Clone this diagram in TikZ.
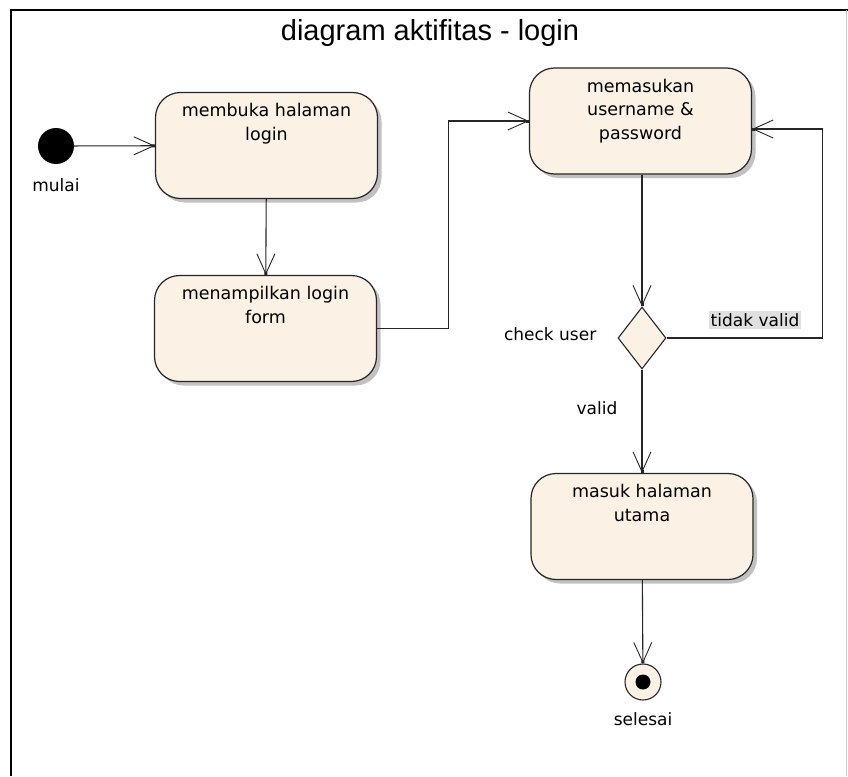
\documentclass[tikz,border=0pt]{standalone}
\usepackage{fontspec}
\setmainfont{DejaVu Sans}
\newfontfamily\titlefont{Liberation Sans}
\usepackage{tikz}
\usetikzlibrary{positioning, arrows.meta, shapes.geometric, shadows}

\definecolor{actfill}{RGB}{251,241,228}
\definecolor{tagfill}{RGB}{224,224,224}
\newcommand{\acttxt}[1]{\parbox[c][84pt][t]{210pt}{\centering #1}}

\tikzset{
  action/.style={draw=black!85, line width=1.2pt, fill=actfill,
    rounded corners=25pt, minimum width=222pt, minimum height=106pt,
    font=\fontsize{17.5}{23.5}\selectfont,
    drop shadow={shadow xshift=4pt, shadow yshift=-4pt, fill=black!40, opacity=0.6}},
  decision/.style={diamond, draw=black!85, line width=1.1pt, fill=actfill,
    minimum width=48pt, minimum height=62pt, aspect=0.77, inner sep=0pt},
  lbl/.style={font=\fontsize{17}{20}\selectfont, inner sep=1pt},
  flow/.style={line width=1.1pt, draw=black!85,
    -{Straight Barb[length=20pt, width=18pt, line width=0.9pt, sep=-3pt]Square[length=3pt, width=3pt]}},
}

\begin{document}
\begin{tikzpicture}[x=1pt, y=-1pt]
  \useasboundingbox[fill=white] (0,0) rectangle (848,776);
  % frame
  \draw[line width=2pt] (11,776) -- (11,10) -- (848,10);
  \draw[black!20, line width=1pt] (846,10) -- (846,776);
  \node[anchor=base, font=\titlefont\fontsize{29}{31}\selectfont] (title) at (430,41) {diagram aktifitas - login};

  % start
  \node[circle, fill=black, minimum size=36pt, inner sep=0pt] (init) at (56,146) {};
  \node[lbl, below=13pt of init] (mulai) {mulai};

  % actions
  \node[action] (open) at (266.5,145.5) {\acttxt{membuka halaman\\login}};
  \node[action] (form) at (265.5,328.5) {\acttxt{menampilkan login\\form}};
  \node[action] (input) at (640.5,121) {\acttxt{memasukan\\username \&\\password}};
  \node[decision] (chk) at (642,338) {};
  \node[lbl, left=20pt of chk, yshift=4pt] (chklbl) {check user};
  \node[action] (home) at (642,526.5) {\acttxt{masuk halaman\\utama}};

  % end
  \node[circle, draw=black!85, line width=1.1pt, fill=actfill, minimum size=36pt, inner sep=0pt] (fin) at (643,682) {};
  \node[circle, fill=black, minimum size=15pt, inner sep=0pt] (findot) at (fin) {};
  \node[lbl, below=11pt of fin] (selesai) {selesai};

  % flows
  \draw[flow] (init) -- (open);
  \draw[flow] (open) -- (form);
  \draw[flow] (form.east) -- ++(71,0) |- (input.west);
  \draw[flow] (input.south -| chk.north) -- (chk.north);
  \draw[flow] (chk.east) -- ++(156,0) |- ([yshift=-8pt]input.east);
  \draw[flow] (chk) -- (home);
  \draw[flow] (home) -- (fin);

  % guards
  \node[lbl, fill=tagfill, inner sep=2pt] (invalid) at (755,320) {tidak valid};
  \node[lbl] (valid) at (597,408) {valid};
\end{tikzpicture}
\end{document}
